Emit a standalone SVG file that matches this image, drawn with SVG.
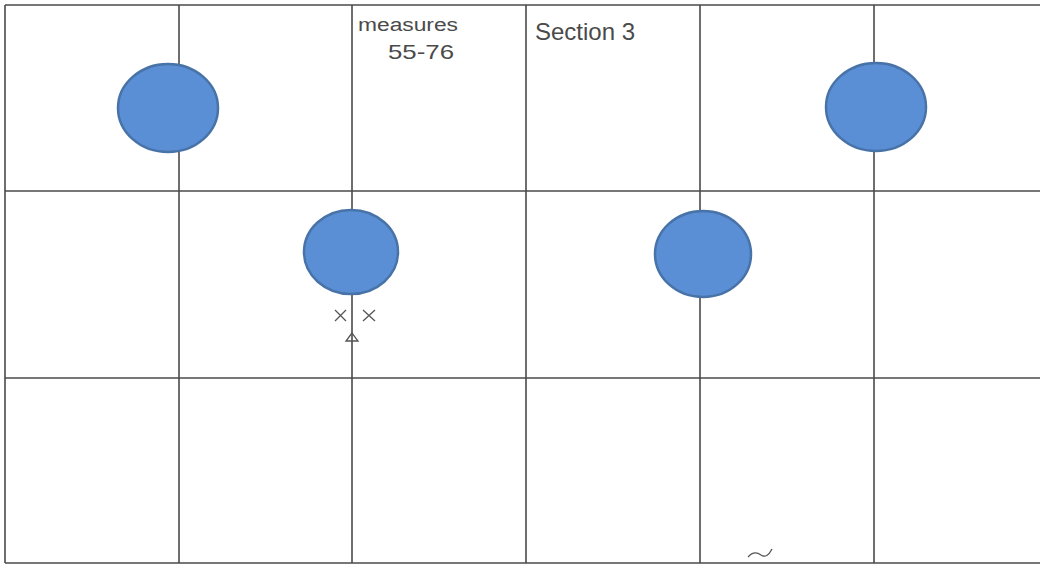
<svg xmlns="http://www.w3.org/2000/svg" width="1040" height="565" viewBox="0 0 1040 565">
<style>
.grid{stroke:#4a4a4a;stroke-width:1.6;fill:none}
.dot{fill:#5b8fd5;stroke:#4873a8;stroke-width:2.5}
.hand{font-family:"Liberation Sans",Arial,sans-serif;fill:#4a4a4a}
.mark{stroke:#555;stroke-width:1.3;fill:none}
</style>
<rect width="1040" height="565" fill="#ffffff"/>
<g id="grid" class="grid">
<line x1="5" y1="5" x2="1040" y2="5"/>
<line x1="5" y1="191" x2="1040" y2="191"/>
<line x1="5" y1="378" x2="1040" y2="378"/>
<line x1="5" y1="563" x2="1040" y2="563"/>
<line x1="5" y1="5" x2="5" y2="563"/>
<line x1="179" y1="5" x2="179" y2="563"/>
<line x1="352" y1="5" x2="352" y2="563"/>
<line x1="526" y1="5" x2="526" y2="563"/>
<line x1="700" y1="5" x2="700" y2="563"/>
<line x1="874" y1="5" x2="874" y2="563"/>
</g>
<g id="dot1"><ellipse class="dot" cx="168" cy="108" rx="50" ry="44"/></g>
<g id="dot2"><ellipse class="dot" cx="876" cy="107" rx="50" ry="44"/></g>
<g id="dot3"><ellipse class="dot" cx="351" cy="252" rx="47" ry="42"/></g>
<g id="dot4"><ellipse class="dot" cx="703" cy="254" rx="48" ry="43"/></g>
<g id="labels">
<text class="hand" x="358" y="31" font-size="18" textLength="100" lengthAdjust="spacingAndGlyphs">measures</text>
<text class="hand" x="388" y="59" font-size="21" textLength="66" lengthAdjust="spacingAndGlyphs">55-76</text>
<text class="hand" x="535" y="40" font-size="24">Section 3</text>
</g>
<g id="marks" class="mark">
<path d="M335 310 L346 321 M346 310 L335 321"/>
<path d="M363 310 L375 321 M375 310 L363 321"/>
<path d="M352 333 L346 341 L358 341 Z"/>
<path d="M748 557 Q754 550 761 555 Q767 559 772 549"/>
</g>
</svg>
